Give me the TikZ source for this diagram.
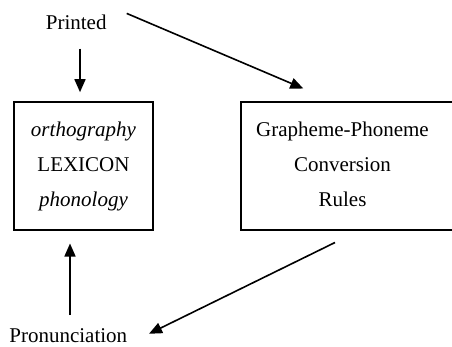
\documentclass[tikz,border=0pt]{standalone}
\usepackage{fontspec}
\setmainfont{Liberation Serif}
\usetikzlibrary{arrows.meta,calc}
\begin{document}
\begin{tikzpicture}[x=1pt,y=-1pt,
  every node/.style={font=\fontsize{21}{35}\selectfont, inner sep=0pt},
  box/.style={draw, line width=1.6pt, minimum height=128pt, align=center},
  arr/.style={line width=1.6pt, -{Triangle[length=13pt,width=11pt]}}]
\useasboundingbox (0,0) rectangle (452,346);
\clip (0,0) rectangle (452,346);
\node[anchor=base] (printed) at (76.2,29.3) {Printed};
\node[anchor=base] (pron) at (68.3,342.3) {Pronunciation};
\node[box, minimum width=139pt] (lex) at (83.5,166) {\textit{orthography}\\LEXICON\\\textit{phonology}};
\node[box, minimum width=240pt, anchor=west] (gpc) at (240,166) {};
\node[align=center] (gpctext) at (342.5,164.5) {Grapheme-Phoneme\\Conversion\\Rules};
\draw[arr] ($(printed.south)+(3.8,19)$) -- ($(lex.north)+(-3.5,-9)$);
\draw[arr] ($(printed.east)+(20,-8.7)$) -- ($(gpc.north west)+(63.3,-12.7)$);
\draw[arr] ($(gpc.south west)+(95,11.7)$) -- ($(pron.east)+(21.6,-1.7)$);
\draw[arr] ($(pron.north)+(1.7,-13)$) -- ($(lex.south)+(-13.5,12.7)$);
\end{tikzpicture}
\end{document}
